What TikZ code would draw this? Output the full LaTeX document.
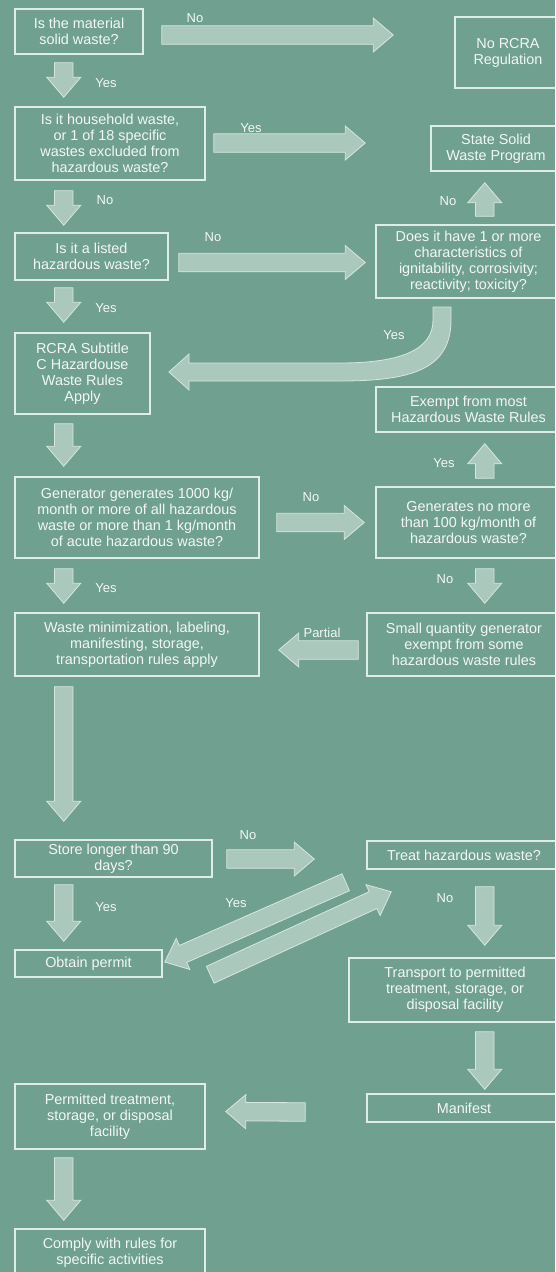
\documentclass[tikz,border=0pt]{standalone}
\usepackage{fontspec}
\setmainfont{Liberation Sans}
\usetikzlibrary{calc}

\definecolor{bg}{RGB}{112,160,143}
\definecolor{arrowfill}{RGB}{171,200,189}
\definecolor{arrowline}{RGB}{214,231,224}
\definecolor{boxline}{RGB}{224,236,231}
\definecolor{txt}{RGB}{243,247,245}

\tikzset{
  box/.style={draw=boxline, line width=1.5pt, text=txt, align=center,
    inner sep=0pt, font=\fontsize{14.4}{16}\selectfont},
  tag/.style={text=txt, inner sep=0pt, font=\fontsize{13}{14}\selectfont},
  fat/.style={fill=arrowfill, draw=arrowline, line width=0.8pt, line join=miter}
}

% block arrow from #1 (tail) to #2 (tip)
\newcommand\fatarrow[2]{%
  \coordinate (fa-s) at (#1);
  \coordinate (fa-e) at (#2);
  \coordinate (fa-h) at ($(fa-e)!20pt!(fa-s)$);
  \draw[fat] ($(fa-s)!9.25pt!90:(fa-e)$) -- ($(fa-h)!9.25pt!-90:(fa-s)$)
    -- ($(fa-h)!17pt!-90:(fa-s)$) -- (fa-e) -- ($(fa-h)!17pt!90:(fa-s)$)
    -- ($(fa-h)!9.25pt!90:(fa-s)$) -- ($(fa-s)!9.25pt!-90:(fa-e)$) -- cycle;}

\begin{document}
\begin{tikzpicture}[x=1pt, y=-1pt]
    \useasboundingbox (0,0) rectangle (555,1272);
    \fill[bg] (0,0) rectangle (555,1272);

    % Left column
    \node[box, minimum width=128, minimum height=45] (solid) at (79,31.5) {Is the material\\solid waste?};
    \node[box, minimum width=190, minimum height=73] (household) at (110,143.5) {Is it household waste,\\or 1 of 18 specific\\wastes excluded from\\hazardous waste?};
    \node[box, minimum width=153, minimum height=47] (listed) at (91.5,256.5) {Is it a listed\\hazardous waste?};
    \node[box, minimum width=135, minimum height=81] (subtitle) at (82.5,373.5) {RCRA Subtitle\\C Hazardouse\\Waste Rules\\Apply};
    \node[box, minimum width=244, minimum height=81] (generator) at (137,517.5) {Generator generates 1000 kg/\\month or more of all hazardous\\waste or more than 1 kg/month\\of acute hazardous waste?};
    \node[box, minimum width=244, minimum height=63] (minim) at (137,644.5) {Waste minimization, labeling,\\manifesting, storage,\\transportation rules apply};
    \node[box, minimum width=197, minimum height=37] (store) at (113.5,858.5) {Store longer than 90\\days?};
    \node[box, minimum width=147, minimum height=27] (permit) at (88.5,963.5) {Obtain permit};
    \node[box, minimum width=190, minimum height=65] (facility) at (110,1116.5) {Permitted treatment,\\storage, or disposal\\facility};
    \node[box, minimum width=190, minimum height=48] (comply) at (110,1253) {Comply with rules for\\specific activities};

    % Right column (right edges run off the page)
    \node[box, minimum width=106, minimum height=71] (norcra) at (508,52.5) {No RCRA\\Regulation};
    \node[box, minimum width=130, minimum height=45] (state) at (496,148.5) {State Solid\\Waste Program};
    \node[box, minimum width=185, minimum height=73] (charac) at (468.5,261.5) {Does it have 1 or more\\characteristics of\\ignitability, corrosivity;\\reactivity; toxicity?};
    \node[box, minimum width=185, minimum height=45] (exempt) at (468.5,409.5) {Exempt from most\\Hazardous Waste Rules};
    \node[box, minimum width=185, minimum height=71] (small100) at (468.5,522.5) {Generates no more\\than 100 kg/month of\\hazardous waste?};
    \node[box, minimum width=194, minimum height=63] (sqg) at (464,644.5) {Small quantity generator\\exempt from some\\hazardous waste rules};
    \node[box, minimum width=194, minimum height=28] (treat) at (464,855) {Treat hazardous waste?};
    \node[box, minimum width=212, minimum height=64] (transport) at (455,990) {Transport to permitted\\treatment, storage, or\\disposal facility};
    \node[box, minimum width=194, minimum height=28] (manifest) at (464,1108) {Manifest};

    % Down arrows, left
    \fatarrow{$(solid.south west)+(49.5,8)$}{$(household.north west)+(49.5,-9)$}
    \fatarrow{$(household.south west)+(49.5,10)$}{$(listed.north west)+(49.5,-7)$}
    \fatarrow{$(listed.south west)+(49.5,7)$}{$(subtitle.north west)+(49.5,-10)$}
    \fatarrow{$(subtitle.south west)+(49.5,9)$}{$(generator.north west)+(49.5,-10)$}
    \fatarrow{$(generator.south west)+(49.5,10)$}{$(minim.north west)+(49.5,-9)$}
    \fatarrow{$(minim.south west)+(49.5,10)$}{$(store.north west)+(49.5,-18)$}
    \fatarrow{$(store.south west)+(49.5,7)$}{$(permit.north west)+(49.5,-8)$}
    \fatarrow{$(facility.south west)+(49.5,8)$}{$(comply.north west)+(49.5,-8)$}

    % Up and down arrows, right
    \fatarrow{$(charac.north east)+(-77,-8)$}{$(state.south east)+(-77,11)$}
    \fatarrow{$(small100.north east)+(-77,-8)$}{$(exempt.south east)+(-77,11)$}
    \fatarrow{$(small100.south east)+(-77,10)$}{$(sqg.north east)+(-77,-9)$}
    \fatarrow{$(treat.south east)+(-77,17)$}{$(transport.north east)+(-77,-12)$}
    \fatarrow{$(transport.south east)+(-77,9)$}{$(manifest.north east)+(-77,-4)$}

    % Side arrows
    \fatarrow{$(solid.east)+(18,3.5)$}{$(norcra.west)+(-61,-17.5)$}
    \fatarrow{$(household.east)+(8,-0.5)$}{$(state.west)+(-65,-5.5)$}
    \fatarrow{$(listed.east)+(10,6)$}{$(charac.west)+(-10,1)$}
    \fatarrow{$(generator.east)+(17,5)$}{$(small100.west)+(-11,0)$}
    \fatarrow{$(sqg.west)+(-8,5.5)$}{$(minim.east)+(19,5.5)$}
    \fatarrow{$(store.east)+(14,0.5)$}{$(treat.west)+(-52,4)$}
    \fatarrow{$(manifest.west)+(-61,4)$}{$(facility.east)+(20,-5)$}
    \fatarrow{$(treat.south west)+(-20.5,12.5)$}{$(permit.east)+(2,-1.5)$}
    \fatarrow{$(permit.south east)+(47.5,-3)$}{$(treat.south west)+(25,22)$}

    % Curved arrow back to Subtitle C
    \draw[fat] (451,307) -- (451,320) .. controls (451,370) and (410,381) .. (340,381)
      -- (189,381) -- (189,390) -- (169,372) -- (189,354) -- (189,363) -- (340,363)
      .. controls (400,363) and (433,350) .. (433,320) -- (433,307) -- cycle;

    % Labels
    \foreach \t/\x/\y [count=\i] in {No/195/18, Yes/106/83, Yes/251/128, No/105/200,
        No/448/201, No/213/237, Yes/106/308, Yes/394/335, Yes/444/463, No/311/497,
        Yes/106/588, No/445/579, Partial/322/633, No/248/835, Yes/236/903,
        Yes/106/907, No/445/898}
      \node[tag] (lab\i) at (\x,\y) {\t};
\end{tikzpicture}
\end{document}
